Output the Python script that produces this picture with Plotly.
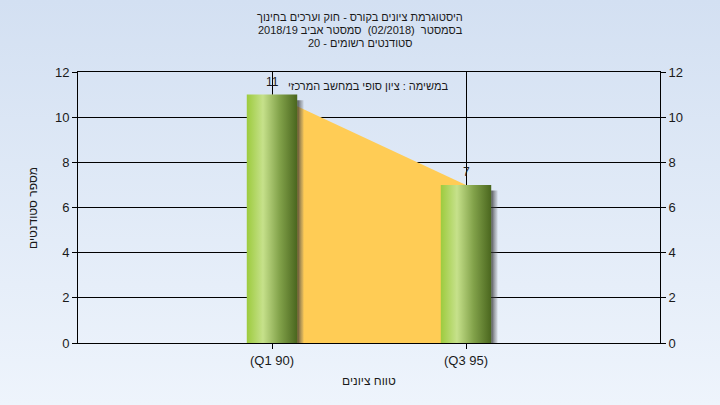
import base64
import plotly.graph_objects as go

# ---- data ----
categories = ["(Q1 90)", "(Q3 95)"]
counts = [11, 7]
title_lines = [
    "היסטוגרמת ציונים בקורס - חוק וערכים בחינוך",
    "בסמסטר  (02/2018)  סמסטר אביב 2018/19",
    "סטודנטים רשומים - 20",
]
note_text = "במשימה : ציון סופי במחשב המרכזי"
x_title = "טווח ציונים"
y_title = "מספר סטודנטים"
y_ticks = [0, 2, 4, 6, 8, 10, 12]

FONT = "Liberation Sans, Arial, sans-serif"
xs = list(range(len(categories)))
half_w = 0.13
shadow_w = 0.033

fig = go.Figure()

# area between bars
fig.add_trace(go.Scatter(
    x=xs, y=counts, mode="lines", line=dict(width=0, color="#FFCC55"),
    fill="tozeroy", fillcolor="#FFCC55", hoverinfo="skip", showlegend=False))

# shadows and gradient bars
for x, v in zip(xs, counts):
    x0, x1 = x + half_w, x + half_w + shadow_w
    y1 = v - 0.25
    fig.add_trace(go.Scatter(
        x=[x0, x1, x1, x0, x0], y=[0, 0, y1, y1, 0], mode="lines",
        line=dict(width=0), fill="toself",
        fillgradient=dict(type="horizontal",
                          colorscale=[[0, "rgba(40,40,40,0.8)"], [1, "rgba(110,110,110,0.15)"]]),
        hoverinfo="skip", showlegend=False))
for x, v in zip(xs, counts):
    x0, x1 = x - half_w, x + half_w
    fig.add_trace(go.Scatter(
        x=[x0, x1, x1, x0, x0], y=[0, 0, v, v, 0], mode="lines",
        line=dict(width=0), fill="toself",
        fillgradient=dict(type="horizontal",
                          colorscale=[[0, "#9DCB3E"], [0.32, "#C6E18B"], [0.65, "#82A24A"], [1, "#4A661E"]]),
        hoverinfo="skip", showlegend=False))

# invisible trace for right axis
fig.add_trace(go.Scatter(x=xs, y=counts, yaxis="y2", mode="markers",
                         marker=dict(opacity=0), hoverinfo="skip", showlegend=False))

# background gradient image
svg = ('<svg xmlns="http://www.w3.org/2000/svg" width="720" height="405" preserveAspectRatio="none">'
       '<defs><linearGradient id="g" x1="0" y1="0" x2="0" y2="1">'
       '<stop offset="0" stop-color="#D3E0F2"/><stop offset="1" stop-color="#EEF4FC"/>'
       '</linearGradient></defs><rect width="720" height="405" fill="url(#g)"/></svg>')
src = "data:image/svg+xml;base64," + base64.b64encode(svg.encode()).decode()

L, R, T, B = 78, 60, 72, 62
pw, ph = 720 - L - R, 405 - T - B

def px_x(px):
    return (px - L) / pw

def px_y(py):
    return (405 - B - py) / ph

fig.add_layout_image(dict(source=src, xref="paper", yref="paper",
                          x=-L / pw, y=1 + T / ph, sizex=720 / pw, sizey=405 / ph,
                          sizing="stretch", layer="below", xanchor="left", yanchor="top"))

axis_common = dict(showline=True, linecolor="black", linewidth=1, ticks="outside",
                   ticklen=5, tickcolor="black", automargin=False,
                   tickfont=dict(family=FONT, size=13, color="#1a1a1a"))

annots = []
for i, line in enumerate(title_lines):
    annots.append(dict(text=line, xref="paper", yref="paper", x=px_x(360), y=px_y(17 + 13 * i),
                       xanchor="center", yanchor="middle", showarrow=False,
                       font=dict(family=FONT, size=11, color="#1a1a1a")))
annots.append(dict(text=note_text, xref="paper", yref="paper", x=px_x(368), y=px_y(86),
                   xanchor="center", yanchor="middle", showarrow=False,
                   font=dict(family=FONT, size=11, color="#1a1a1a")))
annots.append(dict(text=x_title, xref="paper", yref="paper", x=px_x(369), y=px_y(381),
                   xanchor="center", yanchor="middle", showarrow=False,
                   font=dict(family=FONT, size=12, color="#1a1a1a")))
annots.append(dict(text=y_title, xref="paper", yref="paper", x=px_x(33), y=px_y(208),
                   xanchor="center", yanchor="middle", showarrow=False, textangle=-90,
                   font=dict(family=FONT, size=12, color="#1a1a1a")))
for x, v in zip(xs, counts):
    annots.append(dict(text=str(v), x=x, y=v, xref="x", yref="y", yshift=13,
                       xanchor="center", yanchor="middle", showarrow=False,
                       font=dict(family=FONT, size=12, color="#1a1a1a")))

fig.update_layout(
    width=720, height=405,
    margin=dict(l=L, r=R, t=T, b=B),
    paper_bgcolor="#E2EBF7", plot_bgcolor="#B3B3B3",
    font=dict(family=FONT, color="#1a1a1a"),
    xaxis=dict(range=[-1, 2], tickvals=xs, ticktext=categories, showgrid=True,
               gridcolor="black", gridwidth=1, zeroline=False, mirror=True,
               **axis_common),
    yaxis=dict(range=[0, 12], tickvals=y_ticks, showgrid=True, gridcolor="black",
               gridwidth=1, zeroline=False, **axis_common),
    yaxis2=dict(range=[0, 12], tickvals=y_ticks, overlaying="y", side="right",
                showgrid=False, zeroline=False, **axis_common),
    annotations=annots,
)

fig.write_html("out.html", config={"displayModeBar": False},
               post_script="document.body.style.margin='0';document.body.style.padding='0';")
